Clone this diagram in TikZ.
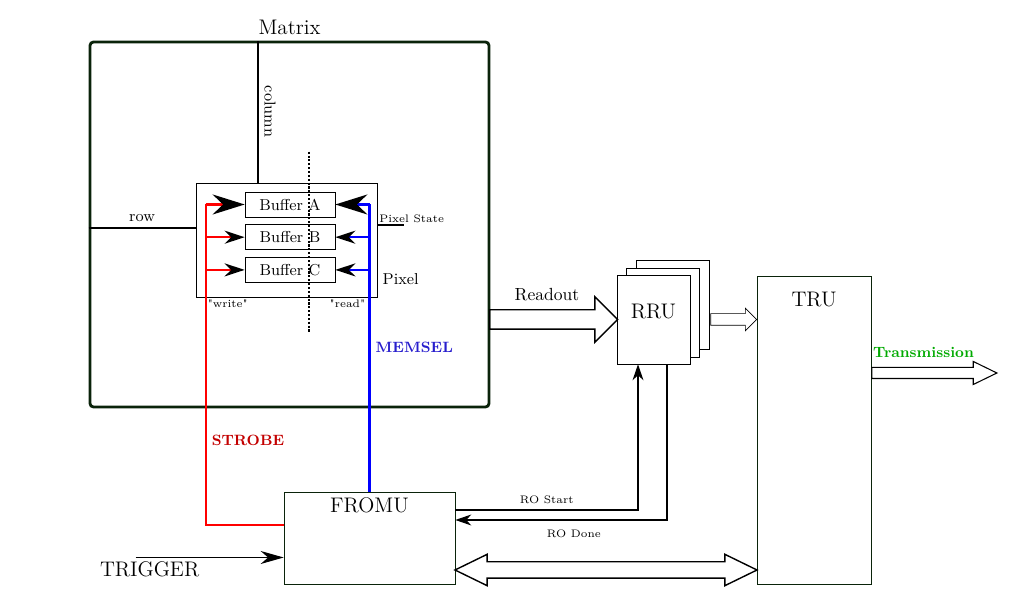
\documentclass[tikz,border=0pt]{standalone}
\usepackage{fontspec}
\usetikzlibrary{arrows.meta,positioning,shapes.arrows,calc}

\definecolor{framegreen}{RGB}{10,35,10}
\definecolor{strobered}{RGB}{195,0,0}
\definecolor{memselblue}{RGB}{40,30,205}
\definecolor{txgreen}{RGB}{0,170,0}
\newcommand{\tinylbl}{\fontsize{6.2}{7}\selectfont}
\newcommand{\siglbl}{\fontsize{8.5}{10}\selectfont\bfseries}

\begin{document}
\begin{tikzpicture}[
    buffer/.style={draw, minimum width=1.8cm, minimum height=0.5cm, inner sep=0pt, font=\small},
    rrubox/.style={draw, fill=white, minimum width=1.46cm, minimum height=1.78cm},
    wire/.style={line width=1.3pt},
    bigtip/.style={-{Stealth[color=black, length=0.64cm, width=0.4cm]}},
    smalltip/.style={-{Stealth[color=black, length=0.4cm, width=0.26cm]}},
    rotip/.style={-{Stealth[length=0.32cm, width=0.22cm]}},
    flow/.style={single arrow, draw, inner xsep=0pt, single arrow tip angle=90, anchor=tail},
    node distance=0.14cm
]
\useasboundingbox (0,0) rectangle (20.38,12.16);

% matrix with one pixel
\node[draw=framegreen, ultra thick, rounded corners=2pt, minimum width=7.98cm, minimum height=7.3cm,
      label={[font=\large]above:Matrix}] (mtx) at (5.79,7.67) {};
\node[draw, fill=white, minimum width=3.62cm, minimum height=2.28cm] (pix) at (5.73,7.36) {};
\node[buffer] (bufA) at (5.8,8.07) {Buffer A};
\node[buffer, below=of bufA] (bufB) {Buffer B};
\node[buffer, below=of bufB] (bufC) {Buffer C};

\draw[semithick] ($(pix.north)+(-0.57,0)$) -- ($(pix.north |- mtx.north)+(-0.57,0)$)
    node[midway, rotate=-90, anchor=south, font=\small] {column};
\coordinate (rowin) at ($(pix.west)+(0,0.24)$);
\draw[semithick] (mtx.west |- rowin) -- node[above, font=\small] {row} (rowin);
\coordinate (pstate) at ($(pix.east)+(0,0.3)$);
\draw[semithick] (pstate) -- ++(0.54,0);
\node[anchor=south west, font=\tinylbl, inner sep=1pt] (pstatelbl) at (pstate) {Pixel State};
\node[anchor=base west, font=\small, inner sep=0pt] (pixlbl) at ($(pix.south east)+(0.1,0.26)$) {Pixel};
\node[anchor=north west, font=\tinylbl, inner sep=1pt] (wrlbl) at ($(pix.south west)+(0.2,0)$) {\textquotedbl write\textquotedbl};
\node[anchor=north east, font=\tinylbl, inner sep=1pt] (rdlbl) at ($(pix.south east)+(-0.2,0)$) {\textquotedbl read\textquotedbl};

% control units
\node[draw=framegreen, minimum width=3.42cm, minimum height=1.84cm,
      label={[anchor=north, font=\large]north:FROMU}] (fromu) at (7.39,1.40) {};
\node[draw=framegreen, minimum width=2.28cm, minimum height=6.16cm,
      label={[anchor=north, font=\large, yshift=-0.2cm]north:TRU}] (tru) at (16.28,3.56) {};
\node[rrubox] (rru3) at (13.45,6.06) {};
\node[rrubox] (rru2) at (13.26,5.91) {};
\node[rrubox, label={[anchor=north, font=\large, yshift=-0.46cm]north:RRU}] (rru) at (13.07,5.77) {};

% strobe (write side)
\coordinate (wA) at ($(bufA.west)+(-0.78,0)$);
\coordinate (wB) at ($(bufB.west)+(-0.78,0)$);
\coordinate (wC) at ($(bufC.west)+(-0.78,0)$);
\draw[wire, red] ($(fromu.west)+(0,0.26)$) -| (wA);
\draw[wire, red, bigtip] (wA) -- (bufA.west);
\draw[wire, red, smalltip] (wB) -- (bufB.west);
\draw[wire, red, smalltip] (wC) -- (bufC.west);
\node[anchor=west, text=strobered, font=\siglbl] (strobelbl) at (wA |- 0,3.36) {STROBE};

% memsel (read side)
\coordinate (rA) at (fromu.north |- bufA.east);
\coordinate (rB) at (fromu.north |- bufB.east);
\coordinate (rC) at (fromu.north |- bufC.east);
\draw[wire, blue] (fromu.north) -- (rA);
\draw[wire, blue, bigtip] (rA) -- (bufA.east);
\draw[wire, blue, smalltip] (rB) -- (bufB.east);
\draw[wire, blue, smalltip] (rC) -- (bufC.east);
\node[anchor=west, text=memselblue, font=\siglbl] (memsellbl) at (rA |- 0,5.22) {MEMSEL};

\draw[dash pattern=on 1.2pt off 1pt, semithick] ($(pix.north)+(0.45,0.62)$) -- ($(pix.south)+(0.45,-0.7)$);

% data flow
\node[flow, thick, minimum height=2.56cm, inner ysep=0.18cm, single arrow head extend=0.26cm] (readout)
    at ($(mtx.east |- rru.west)+(-0.03,0)$) {};
\node (readlbl) at ($(readout.tail)+(1.16,0.49)$) {Readout};
\node[flow, minimum height=0.92cm, inner ysep=0.11cm, single arrow head extend=0.11cm] (rrutru)
    at ($(rru3.east |- rru.center)+(0.02,0)$) {};
\coordinate (txout) at ($(tru.east)+(0,1.14)$);
\node[flow, semithick, minimum height=2.5cm, inner ysep=0.1cm, single arrow head extend=0.12cm,
      single arrow tip angle=52] (tx) at (txout) {};
\node[anchor=base west, inner sep=0pt, text=txgreen, font=\siglbl] (txlbl) at ($(txout)+(0.03,0.3)$) {Transmission};
\coordinate (busl) at ($(fromu.east)+(0,-0.64)$);
\node[double arrow, draw, thick, inner xsep=0pt, inner ysep=0.15cm, minimum height=6.04cm,
      double arrow head extend=0.15cm, double arrow tip angle=52] (bus)
    at ($(busl)!0.5!(busl -| tru.west)$) {};

% readout handshake
\draw[semithick, rotip] ($(fromu.east)+(0,0.56)$) -| node[pos=0.25, above, font=\tinylbl] {RO Start} ($(rru.south)+(-0.31,0)$);
\draw[semithick, rotip] ($(rru.south)+(0.27,0)$) |- node[pos=0.72, below, yshift=-0.06cm, font=\tinylbl] {RO Done} ($(fromu.east)+(0,0.36)$);

% trigger
\coordinate (trig) at ($(fromu.west)+(-2.96,-0.39)$);
\draw[semithick, -{Stealth[length=0.46cm, width=0.26cm]}] (trig) -- (trig -| fromu.west);
\node[anchor=north, font=\large, inner sep=1pt] (triglbl) at ($(trig)+(0.28,-0.05)$) {TRIGGER};
\end{tikzpicture}
\end{document}
